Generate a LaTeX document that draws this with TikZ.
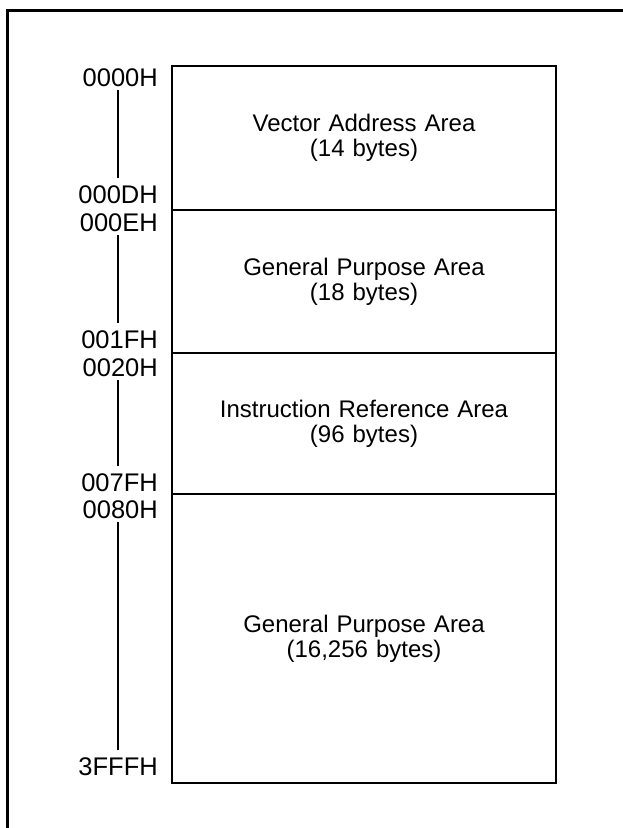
\documentclass[tikz,border=0pt]{standalone}
\usepackage{fontspec}
\setmainfont{Liberation Sans}
\begin{document}
\begin{tikzpicture}[x=1pt,y=-1pt,font=\fontsize{24}{25}\selectfont, line join=miter, line cap=butt,
	area/.style={draw,line width=1.5pt,minimum width=384pt,text width=370pt,align=center,inner sep=0pt},
	addr/.style={anchor=east,inner sep=0pt,font=\fontsize{25.5}{26}\selectfont},
	span/.style={line width=1.5pt}]
	\useasboundingbox (0,0) rectangle (623,828);
	\draw[line width=3pt] (623,10)--(7,10)--(7,828);
	\node[area,minimum height=144pt] (vec) at (364,138) {Vector Address Area\\(14 bytes)};
	\node[area,minimum height=143pt] (gpa) at (364,281.5) {General Purpose Area\\(18 bytes)};
	\node[area,minimum height=141pt] (ira) at (364,423.5) {Instruction Reference Area\\(96 bytes)};
	\node[area,minimum height=289pt] (gpb) at (364,638.5) {General Purpose Area\\(16,256 bytes)};
	\node[addr] (a0) at (158,78) {0000H};
	\node[addr] (a1) at (158,195) {000DH};
	\node[addr] (b0) at (158,223) {000EH};
	\node[addr] (b1) at (158,340) {001FH};
	\node[addr] (c0) at (158,368) {0020H};
	\node[addr] (c1) at (158,483) {007FH};
	\node[addr] (d0) at (158,510) {0080H};
	\node[addr] (d1) at (158,767) {3FFFH};
	\draw[span] ([yshift=-3pt]a0.south-|118,0)--([yshift=8pt]a1.north-|118,0);
	\draw[span] ([yshift=-3pt]b0.south-|118,0)--([yshift=8pt]b1.north-|118,0);
	\draw[span] ([yshift=-3pt]c0.south-|118,0)--([yshift=8pt]c1.north-|118,0);
	\draw[span] ([yshift=-3pt]d0.south-|118,0)--([yshift=8pt]d1.north-|118,0);
\end{tikzpicture}
\end{document}
